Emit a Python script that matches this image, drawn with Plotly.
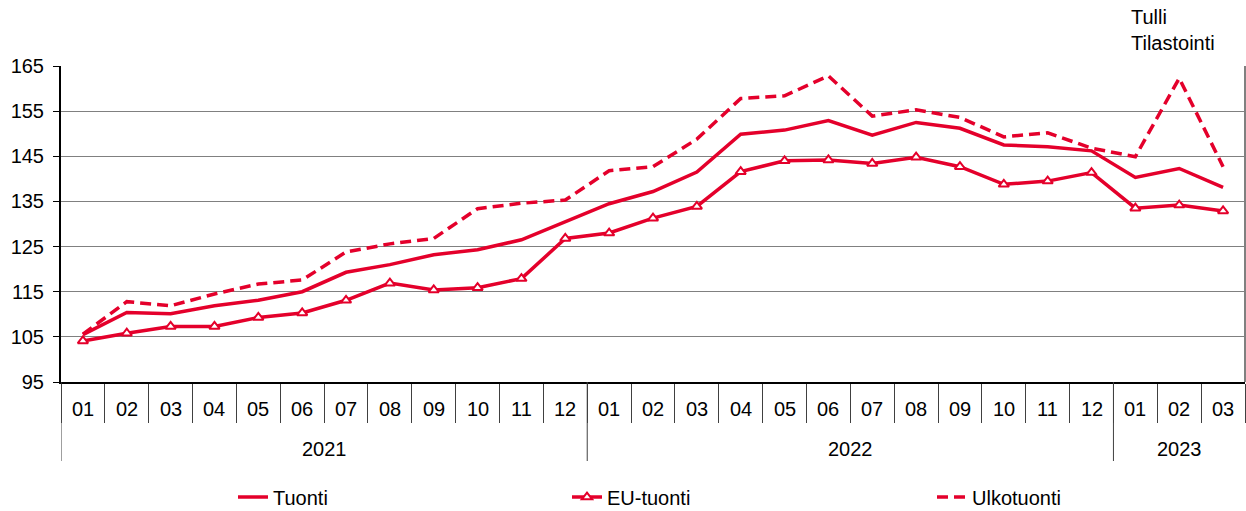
import plotly.graph_objects as go

months = ["01","02","03","04","05","06","07","08","09","10","11","12",
          "01","02","03","04","05","06","07","08","09","10","11","12",
          "01","02","03"]
years = ["2021"]*12 + ["2022"]*12 + ["2023"]*3
year_labels = ["2021", "2022", "2023"]

tuonti = [105.5, 110.4, 110.1, 111.9, 113.1, 115.0, 119.3, 121.0, 123.2, 124.3, 126.5, 130.6,
          134.5, 137.2, 141.5, 149.9, 150.8, 152.9, 149.7, 152.5, 151.2, 147.5, 147.1, 146.2,
          140.3, 142.3, 138.1]
eu_tuonti = [104.1, 105.8, 107.3, 107.3, 109.3, 110.3, 113.1, 116.9, 115.4, 115.9, 117.9, 126.8,
             128.0, 131.3, 133.9, 141.6, 144.0, 144.2, 143.4, 144.8, 142.7, 138.8, 139.5, 141.4,
             133.5, 134.2, 132.9]
ulkotuonti = [105.6, 112.8, 111.9, 114.5, 116.7, 117.6, 123.8, 125.6, 126.8, 133.4, 134.6, 135.3,
              141.8, 142.7, 148.8, 157.8, 158.4, 162.8, 153.9, 155.3, 153.6, 149.3, 150.2, 146.8,
              144.9, 162.3, 142.7]

RED = "rgb(228,0,43)"
FONT = "Liberation Sans, Arial, sans-serif"
FS = 20
cats = [f"{y}-{m}" for y, m in zip(years, months)]

fig = go.Figure()
fig.add_trace(go.Scatter(x=cats, y=tuonti, name="Tuonti", mode="lines",
                         line=dict(color=RED, width=3.5), legend="legend"))
fig.add_trace(go.Scatter(x=cats, y=eu_tuonti, name="EU-tuonti", mode="lines+markers",
                         line=dict(color=RED, width=3.5),
                         marker=dict(symbol="triangle-up", size=9, color="white",
                                     line=dict(color=RED, width=2)),
                         legend="legend2"))
fig.add_trace(go.Scatter(x=cats, y=ulkotuonti, name="Ulkotuonti", mode="lines",
                         line=dict(color=RED, width=3.5, dash="11px,6px"), legend="legend3"))

# month labels
for c, m in zip(cats, months):
    fig.add_annotation(x=c, y=-0.085, xref="x", yref="paper", text=m, showarrow=False,
                       font=dict(family=FONT, size=FS, color="black"), yanchor="middle")
# year labels and separators
groups = {}
for i, y in enumerate(years):
    groups.setdefault(y, []).append(i)
for y in year_labels:
    idx = groups[y]
    fig.add_annotation(x=(idx[0] + idx[-1]) / 2, y=-0.212, xref="x", yref="paper", text=y,
                       showarrow=False, font=dict(family=FONT, size=FS, color="black"),
                       yanchor="middle")
    fig.add_shape(type="line", xref="x", yref="paper", x0=idx[0] - 0.5, x1=idx[0] - 0.5,
                  y0=0, y1=-0.25, line=dict(color="#404040", width=1))
# right border
fig.add_shape(type="line", xref="paper", yref="paper", x0=1, x1=1, y0=0, y1=1,
              line=dict(color="#808080", width=2))

fig.add_annotation(x=(1129 - 61) / 1184, y=1.114, xref="paper", yref="paper",
                   text="Tulli<br>Tilastointi", showarrow=False, align="left",
                   xanchor="left", yanchor="middle",
                   font=dict(family=FONT, size=FS, color="black"))

legend_common = dict(orientation="h", yanchor="middle", y=-0.364, xanchor="left",
                     font=dict(family=FONT, size=FS, color="black"),
                     bgcolor="rgba(0,0,0,0)", borderwidth=0)

fig.update_layout(
    width=1246, height=511,
    margin=dict(l=61, r=1, t=66, b=129, autoexpand=False),
    paper_bgcolor="white", plot_bgcolor="white",
    font=dict(family=FONT, size=FS, color="black"),
    showlegend=True,
    legend=dict(x=(233 - 61) / 1184, **legend_common),
    legend2=dict(x=(567 - 61) / 1184, **legend_common),
    legend3=dict(x=(932 - 61) / 1184, **legend_common),
    xaxis=dict(type="category", categoryorder="array", categoryarray=cats,
               range=[-0.5, len(cats) - 0.5], showticklabels=False,
               ticks="outside", tickson="boundaries", ticklen=39, tickcolor="#404040",
               tickwidth=1, showgrid=False, showline=True, linecolor="black", linewidth=2,
               zeroline=False),
    yaxis=dict(range=[95, 165], dtick=10, tick0=95, showgrid=True, gridcolor="#808080",
               gridwidth=1, showline=True, linecolor="black", linewidth=2,
               ticks="outside", ticklen=6, tickcolor="black", ticklabelstandoff=5,
               tickfont=dict(family=FONT, size=FS, color="black"), zeroline=False),
)

fig.write_html("out.html", config={"displayModeBar": False},
               post_script="document.body.style.margin='0';document.body.style.overflow='hidden';")
